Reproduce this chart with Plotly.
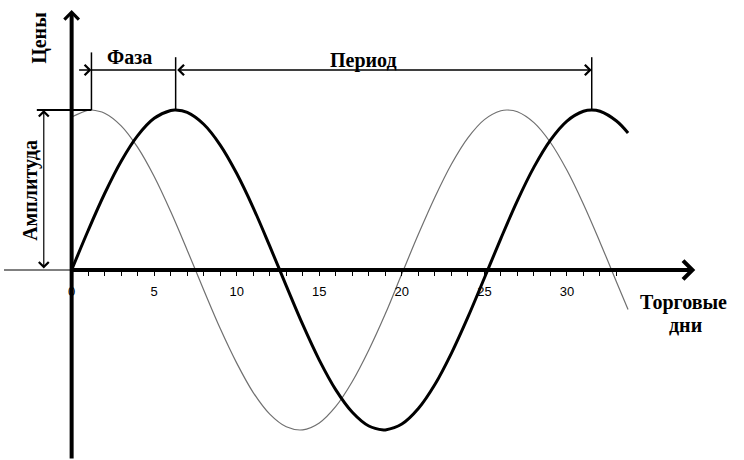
import plotly.graph_objects as go

# ---- data ----
days_black = [0, 1, 2, 3, 4, 5, 6, 6.3, 7, 8, 9, 10, 11, 12, 13, 14, 15, 16, 17, 18, 18.9, 19,
              20, 21, 22, 23, 24, 25, 26, 27, 28, 29, 30, 31, 31.5, 32, 33, 33.7]
price_black = [0, 0.247, 0.478, 0.680, 0.840, 0.948, 0.997, 1.0, 0.985, 0.911, 0.781, 0.603,
               0.389, 0.149, -0.099, -0.342, -0.563, -0.749, -0.889, -0.975, -1.0, -1.0,
               -0.963, -0.866, -0.716, -0.521, -0.295, -0.050, 0.198, 0.434, 0.643, 0.812,
               0.931, 0.992, 1.0, 0.992, 0.931, 0.856]

days_gray = [0, 1, 1.2, 2, 3, 4, 5, 6, 7, 8, 9, 10, 11, 12, 13, 14, 15, 16, 17, 18, 19, 20,
             21, 22, 23, 24, 25, 26, 26.4, 27, 28, 29, 30, 31, 32, 33, 33.7]
price_gray = [0.956, 0.999, 1.0, 0.980, 0.901, 0.766, 0.584, 0.365, 0.124, -0.125, -0.366,
              -0.582, -0.766, -0.901, -0.980, -0.999, -0.956, -0.853, -0.697, -0.500, -0.274,
              -0.024, 0.223, 0.455, 0.661, 0.826, 0.940, 0.995, 1.0, 0.989, 0.921, 0.797,
              0.623, 0.411, 0.174, -0.075, -0.247]

tick_values = [0, 5, 10, 15, 20, 25, 30]
tick_labels = ["0", "5", "10", "15", "20", "25", "30"]
minor_ticks = list(range(1, 34))

# ---- derived positions ----
def peak_x(xs, ys, lo, hi):
    best = None
    for x, y in zip(xs, ys):
        if lo <= x <= hi and (best is None or y > best[1]):
            best = (x, y)
    return best[0]

phase_start = peak_x(days_gray, price_gray, 0, 10)
phase_end = peak_x(days_black, price_black, 0, 10)
period_end = peak_x(days_black, price_black, 20, 34)
amp = max(price_black)

W, H = 744, 460
X0PX, Y0PX = 68, 270
PXX, PXY = 16.6, 160.0
xr = [-X0PX / PXX, (W - X0PX) / PXX]
yr = [-(H - Y0PX) / PXY, Y0PX / PXY]

fig = go.Figure()
fig.add_trace(go.Scatter(x=days_gray, y=price_gray, mode="lines",
                         line=dict(color="#707070", width=1.2, shape="spline"),
                         hoverinfo="skip"))
fig.add_trace(go.Scatter(x=days_black, y=price_black, mode="lines",
                         line=dict(color="black", width=3, shape="spline"),
                         hoverinfo="skip"))
# carrier trace for the visible day axis
fig.add_trace(go.Scatter(x=[0], y=[0], xaxis="x2", yaxis="y", mode="markers",
                         marker=dict(opacity=0), hoverinfo="skip"))

ax_end_px = 690
x2_max = (ax_end_px - X0PX) / PXX

def arrow(xh, yh, xt, yt, width, size, head=4, side="end"):
    return dict(x=xh, y=yh, ax=xt, ay=yt, xref="x", yref="y", axref="x", ayref="y",
                text="", showarrow=True, arrowhead=head, arrowsize=size,
                arrowwidth=width, arrowcolor="black", arrowside=side,
                startarrowhead=head, startarrowsize=size)

dim_y = 1.25
ann = []
ann.append(arrow(0, 1.625, 0, yr[0], 4, 0.7))
ann.append(arrow((695 - X0PX) / PXX, 0, x2_max - 1.0, 0, 4, 0.9))
ann.append(arrow(phase_start, dim_y, (74 - X0PX) / PXX, dim_y, 1.5, 1.35))
ann.append(arrow(period_end, dim_y, phase_end, dim_y, 1.5, 1.35, side="end+start"))
amp_x = (40 - X0PX) / PXX
ann.append(arrow(amp_x, amp, amp_x, 0, 1.2, 1.6, side="end+start"))

tf = dict(family="Liberation Serif", size=20, color="black")
ann.append(dict(x=(35 - X0PX) / PXX, y=1.45, xref="x", yref="y", text="<b>Цены</b>",
                showarrow=False, textangle=-90, font=tf))
ann.append(dict(x=(26 - X0PX) / PXX, y=0.5, xref="x", yref="y", text="<b>Амплитуда</b>",
                showarrow=False, textangle=-90, font=tf))
ann.append(dict(x=(126 - X0PX) / PXX, y=1.33, xref="x", yref="y", text="<b>Фаза</b>",
                showarrow=False, font=tf))
ann.append(dict(x=(361 - X0PX) / PXX, y=1.31, xref="x", yref="y", text="<b>Период</b>",
                showarrow=False, font=tf))
ann.append(dict(x=(683 - X0PX) / PXX, y=-0.2, xref="x", yref="y", text="<b>Торговые</b>",
                showarrow=False, font=tf))
ann.append(dict(x=(685 - X0PX) / PXX, y=-0.345, xref="x", yref="y", text="<b>дни</b>",
                showarrow=False, font=tf))

shapes = []
def seg(x0, y0, x1, y1, w):
    shapes.append(dict(type="line", xref="x", yref="y", x0=x0, y0=y0, x1=x1, y1=y1,
                       line=dict(color="black", width=w)))

seg(phase_start, dim_y, phase_end, dim_y, 1.5)
seg(phase_start, amp, phase_start, 1.36, 1.5)
seg(phase_end, amp, phase_end, 1.33, 1.5)
seg(period_end, amp, period_end, 1.33, 1.5)
seg((33 - X0PX) / PXX, amp, phase_start, amp, 2)
seg(xr[0], 0, 0, 0, 1)

fig.update_layout(
    width=W, height=H, margin=dict(l=0, r=0, t=0, b=0),
    paper_bgcolor="white", plot_bgcolor="rgba(0,0,0,0)", showlegend=False,
    xaxis=dict(range=xr, domain=[0, 1], visible=False, fixedrange=True),
    yaxis=dict(range=yr, domain=[0, 1], visible=False, fixedrange=True),
    xaxis2=dict(range=[0, x2_max], domain=[X0PX / W, ax_end_px / W], anchor="free",
                position=1 - Y0PX / H, showline=True, linewidth=4, linecolor="black",
                showgrid=False, zeroline=False, fixedrange=True,
                ticks="outside", ticklen=4, tickwidth=1, tickcolor="black",
                tickvals=tick_values, ticktext=tick_labels,
                tickfont=dict(family="Liberation Sans", size=13, color="black"),
                ticklabelstandoff=4,
                minor=dict(tickvals=minor_ticks, ticks="outside", ticklen=4,
                           tickwidth=1, tickcolor="black")),
    annotations=ann, shapes=shapes,
)

fig.write_html("out.html", config={"displayModeBar": False},
               post_script="document.body.style.margin='0';document.body.style.overflow='hidden';")
